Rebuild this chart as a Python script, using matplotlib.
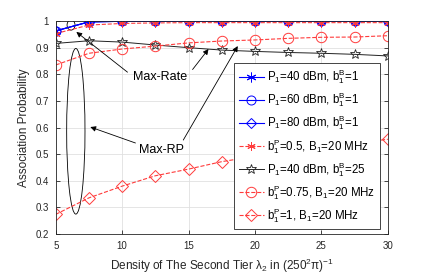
import matplotlib
matplotlib.use("Agg")
import matplotlib.pyplot as plt
from matplotlib.patches import Ellipse
import numpy as np

plt.rcParams['font.family'] = ['Liberation Sans', 'DejaVu Sans']
plt.rcParams['mathtext.fontset'] = 'custom'
plt.rcParams['mathtext.rm'] = 'Liberation Sans'
plt.rcParams['mathtext.it'] = 'Liberation Sans'
plt.rcParams['mathtext.default'] = 'regular'

# density of the second tier
lam2 = [5, 7.5, 10, 12.5, 15, 17.5, 20, 22.5, 25, 27.5, 30]

# max-rate association
p40_b1 = [0.963, 0.997, 0.999, 1.0, 1.0, 1.0, 1.0, 1.0, 1.0, 1.0, 1.0]
p60_b1 = [0.963, 0.997, 0.999, 1.0, 1.0, 1.0, 1.0, 1.0, 1.0, 1.0, 1.0]
p80_b1 = [0.963, 0.997, 0.999, 1.0, 1.0, 1.0, 1.0, 1.0, 1.0, 1.0, 1.0]
p40_b25 = [0.916, 0.926, 0.921, 0.910, 0.900, 0.891, 0.886, 0.882, 0.879, 0.875, 0.869]

# max-RP association
bp05 = [0.953, 0.985, 0.991, 0.993, 0.994, 0.994, 0.994, 0.994, 0.994, 0.994, 0.994]
bp075 = [0.835, 0.879, 0.895, 0.906, 0.918, 0.925, 0.929, 0.935, 0.939, 0.940, 0.945]
bp1 = [0.274, 0.336, 0.380, 0.419, 0.444, 0.472, 0.492, 0.510, 0.526, 0.541, 0.556]

blue = '#0000ff'
red = '#ff3b3b'

fig = plt.figure(figsize=(4.29, 2.77), dpi=100)
ax = fig.add_axes([0.130, 0.155, 0.774, 0.769])

ax.plot(lam2, p40_b1, '-', color=blue, lw=0.8, marker=(6, 2, 0), ms=7, mew=0.7,
        label=r'P$_1$=40 dBm, b$_1^B$=1')
ax.plot(lam2, p60_b1, '-', color=blue, lw=0.8, marker='o', ms=6.5, mfc='none', mew=0.7,
        label=r'P$_1$=60 dBm, b$_1^B$=1')
ax.plot(lam2, p80_b1, '-', color=blue, lw=0.8, marker='D', ms=5.5, mfc='none', mew=0.7,
        label=r'P$_1$=80 dBm, b$_1^B$=1')
ax.plot(lam2, bp05, '--', color=red, lw=0.8, marker=(6, 2, 0), ms=6, mew=0.7,
        label=r'b$_1^P$=0.5, B$_1$=20 MHz')
ax.plot(lam2, p40_b25, '-', color='#222222', lw=0.7, marker='*', ms=7.5, mfc='none', mew=0.6,
        label=r'P$_1$=40 dBm, b$_1^B$=25')
ax.plot(lam2, bp075, '--', color=red, lw=0.8, marker='o', ms=7.5, mfc='none', mew=0.7,
        label=r'b$_1^P$=0.75, B$_1$=20 MHz')
ax.plot(lam2, bp1, '--', color=red, lw=0.8, marker='D', ms=6.5, mfc='none', mew=0.7,
        label=r'b$_1^P$=1, B$_1$=20 MHz')

ax.set_xlim(5, 30)
ax.set_ylim(0.2, 1)
ax.set_xticks([5, 10, 15, 20, 25, 30])
ax.set_yticks(np.arange(0.2, 1.01, 0.1))
ax.set_yticklabels(['0.2', '0.3', '0.4', '0.5', '0.6', '0.7', '0.8', '0.9', '1'])
ax.grid(True, color='#e0e0e0', lw=0.6)
ax.set_axisbelow(True)
ax.tick_params(direction='in', top=True, right=True, labelsize=7, colors='#262626',
               length=3, width=0.6, pad=5)
for s in ax.spines.values():
    s.set_color('#262626')
    s.set_linewidth(0.6)

ax.set_xlabel(r'Density of The Second Tier $\lambda_2$ in (250$^2\pi$)$^{-1}$',
              fontsize=8.5, color='#262626', labelpad=4)
ax.set_ylabel('Association Probability', fontsize=8.5, color='#262626', labelpad=4)

# annotations
arrow = dict(arrowstyle='-|>', color='black', lw=0.6, mutation_scale=8, shrinkA=0, shrinkB=0)
ax.text(12.85, 0.79, 'Max-Rate', fontsize=9, ha='center', va='center')
ax.annotate('', xy=(6.55, 0.959), xytext=(10.4, 0.808), arrowprops=arrow)
ax.annotate('', xy=(16.5, 0.895), xytext=(15.3, 0.818), arrowprops=arrow)

ax.text(12.95, 0.515, 'Max-RP', fontsize=9, ha='center', va='center')
ax.annotate('', xy=(7.6, 0.602), xytext=(11.0, 0.542), arrowprops=arrow)
ax.annotate('', xy=(18.7, 0.906), xytext=(14.6, 0.553), arrowprops=arrow)

ax.add_patch(Ellipse((6.51, 0.586), 1.38, 0.622, fill=False, ec='black', lw=0.6))
ax.add_patch(Ellipse((6.15, 0.985), 0.6, 0.038, fill=False, ec='black', lw=0.6))

leg = ax.legend(loc='lower right', bbox_to_anchor=(0.977, 0.022), fontsize=8.3,
                fancybox=False, framealpha=1, edgecolor='#262626',
                handlelength=2.2, labelspacing=0.38, borderpad=0.4, handletextpad=0.3,
                borderaxespad=0)
leg.get_frame().set_linewidth(0.6)

fig.savefig('out.png', dpi=100)
